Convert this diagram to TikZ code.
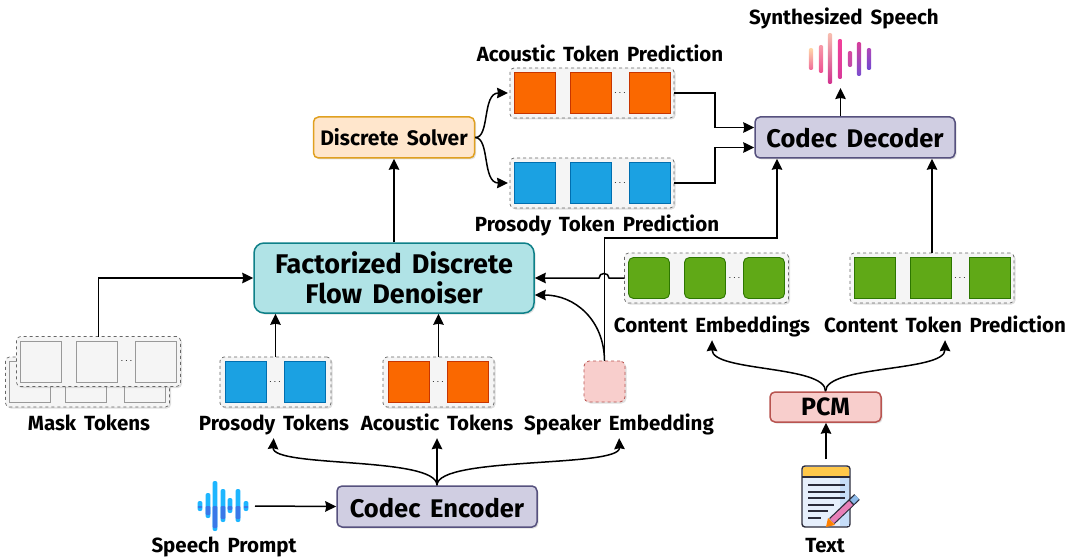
\documentclass[tikz,border=0pt]{standalone}
\usepackage{fontspec}
\setmainfont[WordSpace=1.6]{Fira Sans}
\usetikzlibrary{positioning,arrows.meta,shadows,calc}

\definecolor{groupfill}{HTML}{F5F5F5}
\definecolor{groupedge}{HTML}{666666}
\definecolor{maskedge}{HTML}{999999}
\definecolor{orangefill}{HTML}{FA6800}
\definecolor{orangeedge}{HTML}{C73500}
\definecolor{bluefill}{HTML}{1BA1E2}
\definecolor{blueedge}{HTML}{006EAF}
\definecolor{greenfill}{HTML}{60A917}
\definecolor{greenedge}{HTML}{2D7600}
\definecolor{pinkfill}{HTML}{F8CECC}
\definecolor{pinkedge}{HTML}{B85450}
\definecolor{purplefill}{HTML}{D0CEE2}
\definecolor{purpleedge}{HTML}{56517E}
\definecolor{tealfill}{HTML}{B0E3E6}
\definecolor{tealedge}{HTML}{0E8088}
\definecolor{solverfill}{HTML}{FFE6CC}
\definecolor{solveredge}{HTML}{E0A020}
\definecolor{inkdark}{HTML}{2B2B3A}
\definecolor{wavetop}{HTML}{1EB6FF}
\definecolor{wavebot}{HTML}{3A78E8}
\definecolor{docbody}{HTML}{E6EFFC}
\definecolor{docstrip}{HTML}{C6DDF8}
\definecolor{docbar}{HTML}{FFC84A}
\definecolor{pencilpink}{HTML}{E77FB8}
\definecolor{penciltop}{HTML}{8DBBEA}

\tikzset{
    softshadow/.style={drop shadow={shadow xshift=1.5pt,shadow yshift=-1.5pt,opacity=.25}},
    flow/.style={draw=black,line width=1.5pt,-{Stealth[length=11pt,width=10.5pt,inset=1pt]}},
    block/.style={rounded corners=5pt,line width=1.5pt,inner sep=0pt,softshadow,align=center,font=\bfseries},
    groupbox/.style={draw=groupedge,fill=groupfill,dashed,line width=.7pt,rounded corners=4pt,
        minimum height=50pt,inner sep=0pt,outer sep=0pt,softshadow},
    tokenbox/.style={minimum size=41pt,inner sep=0pt,outer sep=0pt,line width=.9pt},
    masktoken/.style={tokenbox,draw=maskedge,fill=groupfill},
    orangetoken/.style={tokenbox,draw=orangeedge,fill=orangefill},
    bluetoken/.style={tokenbox,draw=blueedge,fill=bluefill},
    greentoken/.style={tokenbox,draw=greenedge,fill=greenfill},
    greenround/.style={greentoken,rounded corners=5pt},
    caption/.style={inner sep=0pt,text height=16pt,text depth=2pt,font=\fontsize{20.5}{22}\selectfont\bfseries},
    dotmark/.style={inner sep=0pt,font=\fontsize{10}{10}\selectfont},
    hiddenbox/.style={inner sep=0pt,outer sep=0pt},
    codecblock/.style={block,draw=purpleedge,fill=purplefill,minimum width=200pt,minimum height=41pt,
        text height=23pt,text depth=2pt,font=\fontsize{25.5}{27}\selectfont\bfseries},
}

% row of three tokens in a dashed box
\newcommand{\RowThree}[3]{
    \node[groupbox,minimum width=164pt] (#1) at (#2) {};
    \node[#3,right=4pt of #1.west] (#1a) {};
    \node[#3,right=15pt of #1a] (#1b) {};
    \node[#3,right=18pt of #1b] (#1c) {};
    \node[dotmark] (#1dots) at ($(#1b)!.5!(#1c)$) {$\cdots$};
}
% row of two tokens in a dashed box
\newcommand{\RowTwo}[3]{
    \node[groupbox,minimum width=111pt] (#1) at (#2) {};
    \node[#3,right=5pt of #1.west] (#1a) {};
    \node[#3,right=18pt of #1a] (#1b) {};
    \node[dotmark] (#1dots) at ($(#1a)!.5!(#1b)$) {$\cdots$};
}

\begin{document}
\begin{tikzpicture}[x=1pt,y=-1pt]
    \useasboundingbox (0,0) rectangle (1071,559);

    \node[block,draw=tealedge,fill=tealfill,rounded corners=10pt,minimum width=280pt,minimum height=70pt,
        font=\fontsize{27}{30}\selectfont\bfseries] (denoiser) at (394,278) {Factorized Discrete\\Flow Denoiser};
    \node[block,draw=solveredge,fill=solverfill,minimum width=161pt,minimum height=41pt,
        text height=19pt,text depth=2pt,font=\fontsize{21}{22}\selectfont\bfseries] (solver) at (394,137.5) {Discrete Solver};
    \node[codecblock] (decoder) at (855,137.5) {Codec Decoder};
    \node[codecblock] (encoder) at (437,506.5) {Codec Encoder};
    \node[block,draw=pinkedge,fill=pinkfill,minimum width=111pt,minimum height=30pt,
        text height=19pt,text depth=2pt,font=\fontsize{25}{27}\selectfont\bfseries] (pcm) at (825.5,407) {PCM};

    \RowThree{acoustic}{592,93}{orangetoken}
    \RowThree{prosodypred}{592,183}{bluetoken}
    \RowThree{content}{706.5,278}{greenround}
    \RowThree{contentpred}{932,278}{greentoken}
    \RowThree{maskback}{87.5,382}{masktoken}
    \RowThree{maskfront}{98.5,361.5}{masktoken}
    \RowTwo{prosody}{275.5,382}{bluetoken}
    \RowTwo{acoustictok}{438.5,382}{orangetoken}
    \node[draw=pinkedge,fill=pinkfill,dashed,line width=.8pt,rounded corners=5pt,minimum size=41pt,
        inner sep=0pt,softshadow] (speaker) at (604.5,381.5) {};

    \node[caption] (acousticlabel) at (600,55) {Acoustic Token Prediction};
    \node[caption] (prosodypredlabel) at (597,224) {Prosody Token Prediction};
    \node[caption] (synthlabel) at (844,18) {Synthesized Speech};
    \node[caption] (contentlabel) at (712,325) {Content Embeddings};
    \node[caption] (contentpredlabel) at (945,325) {Content Token Prediction};
    \node[caption] (masklabel) at (89,423) {Mask Tokens};
    \node[caption] (prosodylabel) at (274,423) {Prosody Tokens};
    \node[caption] (acousticlabeltok) at (437,423) {Acoustic Tokens};
    \node[caption] (speakerlabel) at (619,423) {Speaker Embedding};
    \node[caption] (promptlabel) at (224,545) {Speech Prompt};
    \node[caption] (textlabel) at (825,545) {Text};

    % synthesized wave
    \node[hiddenbox,minimum width=65pt,minimum height=56pt] (synthwave) at (840.5,60) {};
    \foreach \xb/\ya/\yb/\ct/\cb in {811/48/70/FFD8A8/F06A9A,821/45/73/F79AA8/EE4F92,830/33/84/F8C0B0/D0308E,
        840/39/79/F2409A/D83A9A,850/51/67/D84AA0/C04AA8,859/42/76/D83F9A/7A4FD0,869/48/70/B048B8/7048D0}{
        \definecolor{topc}{HTML}{\ct}\definecolor{botc}{HTML}{\cb}
        \shade[top color=topc,bottom color=botc,rounded corners=2pt]
            (\xb-2.2,\ya) rectangle (\xb+2.2,\yb);
    }

    % prompt wave
    \node[hiddenbox,minimum width=61pt,minimum height=52pt] (promptwave) at (224.5,506) {};
    \foreach \xb/\ya/\yb in {200/501/511,208/493/518,215/481/531,223/489/522,230/498/513,238/489/522,246/501/511}{
        \fill[wavetop,rounded corners=2pt] (\xb-2.4,\ya) rectangle (\xb+2.4,\yb);
        \fill[wavebot,rounded corners=1pt] (\xb-2.4,506) rectangle (\xb+2.4,\yb-3);
    }

    % text icon
    \node[draw=inkdark,fill=docbody,line width=1.4pt,rounded corners=3pt,minimum width=48pt,minimum height=61pt,
        inner sep=0pt] (textdoc) at (826,496.5) {};
    \fill[docstrip] (840,478) rectangle (849,526);
    \fill[docbar,rounded corners=2pt] (803,467) rectangle (849,477);
    \draw[inkdark,line width=1.2pt] (802,477) -- (850,477);
    \foreach \yb/\xb in {485/845,492/845,498/845,505/834,511/828,518/821}{
        \draw[inkdark,line width=1.2pt] (808,\yb) -- (\xb,\yb);
    }
    \draw[inkdark,line width=8pt] (832,521) -- (857,497);
    \draw[pencilpink,line width=5.6pt] (832,521) -- (851,503);
    \draw[penciltop,line width=5.6pt] (852,502) -- (857,497);
    \fill[orange] (826,527) -- (828,518) -- (835,525) -- cycle;

    \draw[flow] (decoder.north -| synthwave) -- (synthwave.south);
    \draw[flow] (denoiser.north -| solver) -- (solver.south);
    \draw[flow] (solver.east) .. controls (490,138) and (482,93) .. ([xshift=-2pt]acoustic.west);
    \draw[flow] (solver.east) .. controls (490,138) and (482,183) .. ([xshift=-2pt]prosodypred.west);
    \draw[flow] (acoustic.east) -- +(41,0) |- ([yshift=10pt]decoder.west);
    \draw[flow] (prosodypred.east) -- +(41,0) |- ([yshift=-10pt]decoder.west);
    \draw[flow] (contentpred.north) -- (contentpred.north |- decoder.south);
    \draw[flow] (maskfront.north) |- (denoiser.west);
    \draw[flow] (prosody.north) -- (prosody.north |- denoiser.south);
    \draw[flow] (acoustictok.north) -- (acoustictok.north |- denoiser.south);
    \draw[flow] (content.west) -- (609,278) .. controls (609,272) and (599,272) .. (599,278) -- (denoiser.east);
    \draw[flow] (speaker.north) .. controls (604,320) and (575,295) .. ([yshift=-17pt]denoiser.east);
    \coordinate (busturn) at (777,238);
    \draw[flow] (speaker.north) |- (busturn) -- (busturn |- decoder.south);

    \draw[flow,shorten >=6pt] (encoder.north) .. controls (437,456) and (272,468) .. (prosodylabel.south);
    \draw[flow,shorten >=6pt] (encoder.north) -- (acousticlabeltok.south);
    \draw[flow,shorten >=6pt] (encoder.north) .. controls (437,456) and (620,468) .. (speakerlabel.south);
    \draw[flow] (promptwave.east) -- (encoder.west);
    \draw[flow,shorten >=6pt] (pcm.north) .. controls (826,365) and (712,372) .. (contentlabel.south);
    \draw[flow,shorten >=6pt] (pcm.north) .. controls (826,365) and (945,372) .. (contentpredlabel.south);
    \draw[flow,shorten <=6pt] (textdoc.north) -- (textdoc.north |- pcm.south);
\end{tikzpicture}
\end{document}
